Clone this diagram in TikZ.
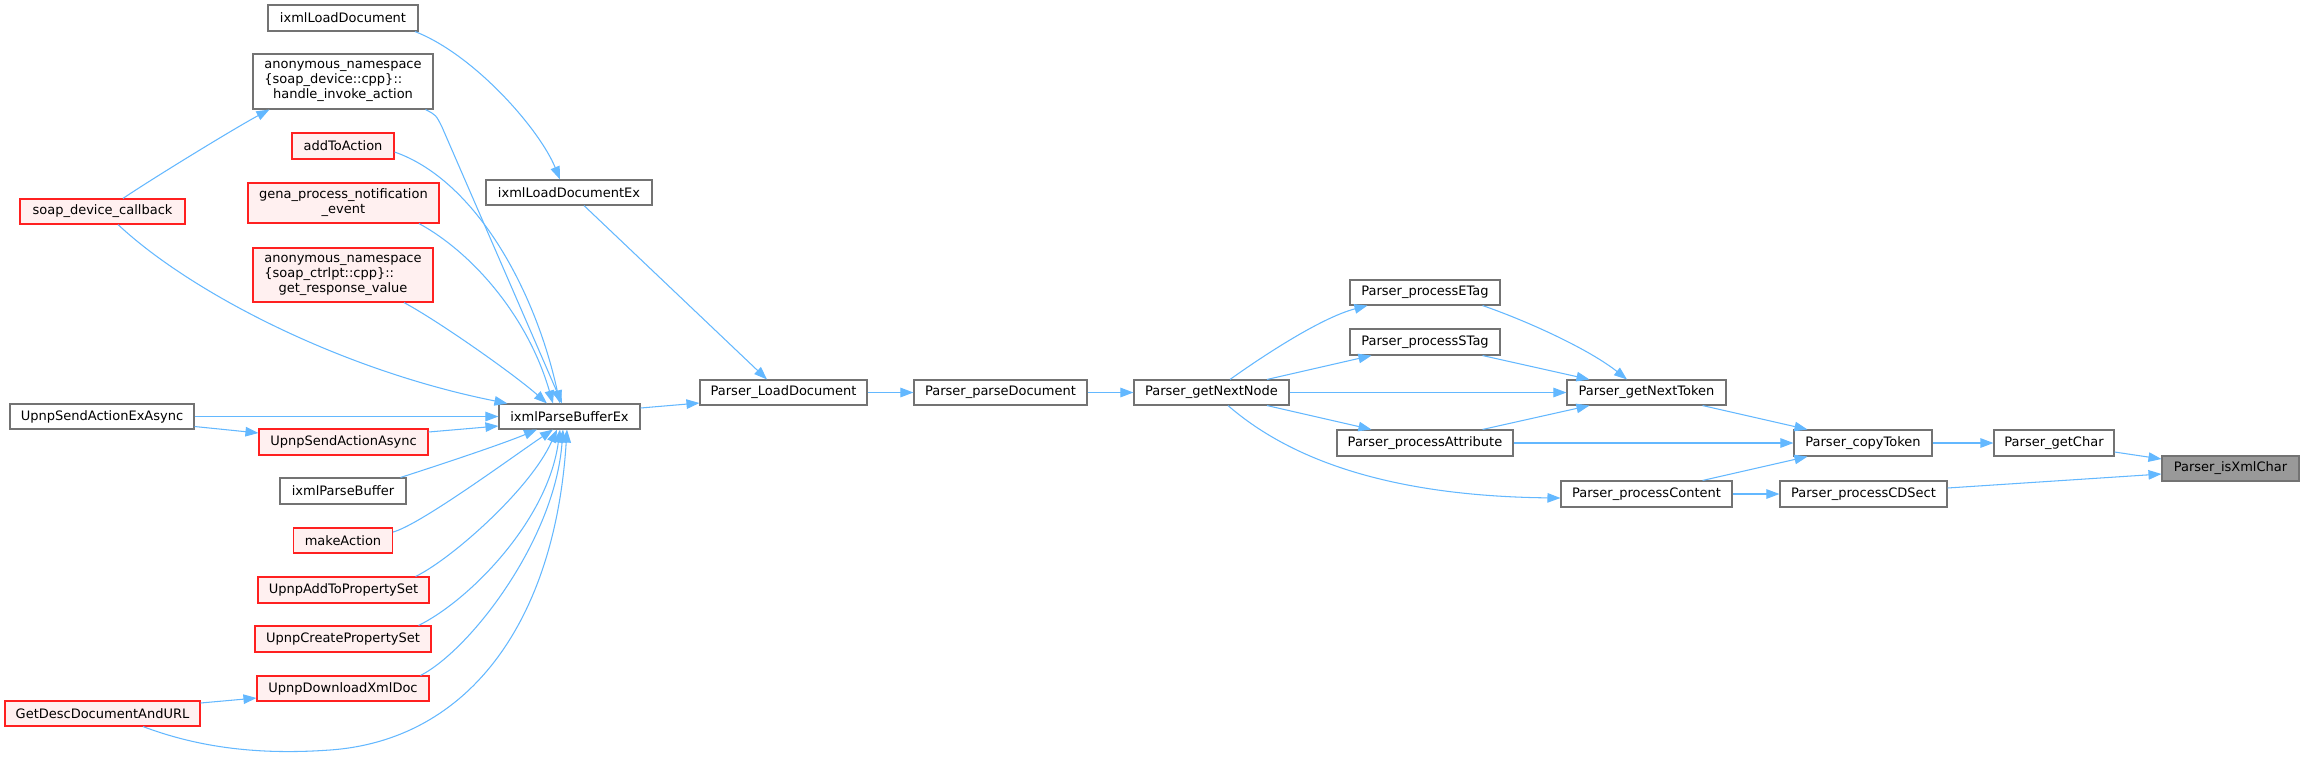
\documentclass[tikz,border=0pt]{standalone}
\usepackage{fontspec}
\setmainfont{DejaVu Sans}
\usepackage{calc}
\usetikzlibrary{arrows.meta,calc}
\definecolor{edgec}{HTML}{63B8FF}
\definecolor{nodeb}{HTML}{737373}
\definecolor{redb}{HTML}{FF2020}
\definecolor{redf}{HTML}{FFF0F0}
\definecolor{rootf}{HTML}{999999}
\newcommand{\lft}[2]{\makebox[\widthof{#1}][l]{#2}}
\begin{document}
\begin{tikzpicture}[x=1pt,y=-1pt,
  fn/.style={draw=nodeb, line width=1.1pt, fill=white, inner sep=0pt, text=black,
    font=\fontsize{13}{15}\selectfont, align=center},
  fr/.style={fn, draw=redb, fill=redf},
  froot/.style={fn, fill=rootf},
  ed/.style={draw=edgec, line width=1.05pt, -{Triangle[length=13pt,width=9.5pt]}}]
\useasboundingbox[fill=white] (0,0) rectangle (2304,756);

% left column
\node[fn, minimum width=150, minimum height=26] (ldoc) at (343,18) {ixmlLoadDocument};
\node[fn, minimum width=180, minimum height=55] (hia) at (343,81.5)
  {anonymous\_namespace\\\lft{anonymous\_namespace}{\{soap\_device::cpp\}::}\\handle\_invoke\_action};
\node[fr, minimum width=102, minimum height=26] (ata) at (343,146) {addToAction};
\node[fr, minimum width=191, minimum height=40] (gena) at (343.5,203) {gena\_process\_notification\\\_event};
\node[fr, minimum width=180, minimum height=54] (grv) at (343,275)
  {anonymous\_namespace\\\lft{anonymous\_namespace}{\{soap\_ctrlpt::cpp\}::}\\get\_response\_value};
\node[fr, minimum width=165, minimum height=25] (sdc) at (102.5,211.5) {soap\_device\_callback};
\node[fn, minimum width=166, minimum height=25] (ldex) at (569,192.5) {ixmlLoadDocumentEx};
\node[fn, minimum width=184, minimum height=25] (seea) at (102,416.5) {UpnpSendActionExAsync};
\node[fn, minimum width=141, minimum height=25] (pbe) at (569.5,416.5) {ixmlParseBufferEx};
\node[fr, minimum width=169, minimum height=26] (saa) at (343.5,442) {UpnpSendActionAsync};
\node[fn, minimum width=126, minimum height=26] (pb) at (343,491) {ixmlParseBuffer};
\node[fr, minimum width=99, minimum height=25] (ma) at (343,540.5) {makeAction};
\node[fr, minimum width=171, minimum height=26] (atps) at (343.5,590) {UpnpAddToPropertySet};
\node[fr, minimum width=176, minimum height=26] (cps) at (343,639) {UpnpCreatePropertySet};
\node[fr, minimum width=172, minimum height=25] (dxd) at (343,688.5) {UpnpDownloadXmlDoc};
\node[fr, minimum width=195, minimum height=25] (gdu) at (102.5,713.5) {GetDescDocumentAndURL};

% parser chain
\node[fn, minimum width=167, minimum height=25] (pld) at (783.5,392.5) {Parser\_LoadDocument};
\node[fn, minimum width=173, minimum height=25] (ppd) at (1000.5,392.5) {Parser\_parseDocument};
\node[fn, minimum width=155, minimum height=25] (gnn) at (1211.5,392.5) {Parser\_getNextNode};
\node[fn, minimum width=150, minimum height=25] (etag) at (1425,292.5) {Parser\_processETag};
\node[fn, minimum width=150, minimum height=26] (stag) at (1425,342) {Parser\_processSTag};
\node[fn, minimum width=176, minimum height=26] (attr) at (1425,443) {Parser\_processAttribute};
\node[fn, minimum width=159, minimum height=25] (gnt) at (1646.5,392.5) {Parser\_getNextToken};
\node[fn, minimum width=171, minimum height=26] (pc) at (1646.5,494) {Parser\_processContent};
\node[fn, minimum width=138, minimum height=26] (ct) at (1863,443) {Parser\_copyToken};
\node[fn, minimum width=167, minimum height=26] (cds) at (1863.5,494) {Parser\_processCDSect};
\node[fn, minimum width=120, minimum height=26] (gc) at (2054,443) {Parser\_getChar};
\node[froot, minimum width=137, minimum height=25] (ixc) at (2230.5,468.5) {Parser\_isXmlChar};

% edges
\draw[ed] ($(ldoc.south)+(72,0)$) .. controls (475,55) and (540,130) .. ($(ldex.north)+(-9,0)$);
\draw[ed] ($(hia.south east)+(-8,0)$) .. controls (436,115) .. (442,127) -- ($(pbe.north)+(-7.5,0)$);
\draw[ed] ($(ata.east)+(0,6)$) .. controls (475,180) and (535,289) .. ($(pbe.north)+(-9.5,0)$);
\draw[ed] ($(gena.south)+(75.5,0)$) .. controls (473,253) and (528,317) .. ($(pbe.north)+(-16.5,0)$);
\draw[ed] ($(grv.south)+(61,0)$) .. controls (440,322) and (515,375) .. ($(pbe.north)+(-22.5,0)$);
\draw[ed] ($(sdc.north)+(20.5,0)$) .. controls (150,180) and (235,128) .. ($(hia.south west)+(17,0)$);
\draw[ed] ($(sdc.south)+(15.5,0)$) .. controls (190,292) and (340,370) .. ($(pbe.north west)+(9,0)$);
\draw[ed] (seea.east) -- (pbe.west);
\draw[ed] ($(seea.east)+(0,10)$) -- ($(saa.west)+(0,-9)$);
\draw[ed] ($(saa.east)+(0,-10)$) -- ($(pbe.west)+(0,9.5)$);
\draw[ed] ($(pb.north east)+(-6,0)$) .. controls (430,468) and (500,445) .. ($(pbe.south)+(-32.5,0)$);
\draw[ed] ($(ma.east)+(0,-8.5)$) .. controls (420,525) and (515,455) .. ($(pbe.south)+(-16.5,0)$);
\draw[ed] ($(atps.north east)+(-14,0)$) .. controls (450,560) and (530,490) .. ($(pbe.south)+(-12.5,0)$);
\draw[ed] ($(cps.north east)+(-13,0)$) .. controls (470,600) and (548,520) .. ($(pbe.south)+(-9.5,0)$);
\draw[ed] ($(dxd.north east)+(-9,0)$) .. controls (470,650) and (555,540) .. ($(pbe.south)+(-6.5,0)$);
\draw[ed] ($(gdu.east)+(0,-10.5)$) -- ($(dxd.west)+(0,9.5)$);
\draw[ed] ($(gdu.south)+(40.5,0)$) .. controls (200,748) and (260,755) .. (330,750)
   .. controls (470,740) and (555,620) .. ($(pbe.south)+(-2.5,0)$);
\draw[ed] ($(pbe.east)+(0,-8.5)$) -- ($(pld.west)+(0,10.5)$);
\draw[ed] ($(ldex.south)+(15,0)$) -- ($(pld.north)+(-16.5,0)$);
\draw[ed] (pld.east) -- (ppd.west);
\draw[ed] (ppd.east) -- (gnn.west);
\draw[ed] ($(gnn.north)+(18.5,0)$) .. controls (1260,358) and (1320,318) .. ($(etag.south west)+(18,0)$);
\draw[ed] ($(gnn.north)+(55.5,0)$) -- ($(stag.south west)+(22,0)$);
\draw[ed] (gnn.east) -- (gnt.west);
\draw[ed] ($(gnn.south)+(55.5,0)$) -- ($(attr.north west)+(35,0)$);
\draw[ed] ($(gnn.south)+(16.5,0)$) .. controls (1285,455) and (1380,496) .. ($(pc.west)+(0,4)$);
\draw[ed] ($(etag.south east)+(-18,0)$) .. controls (1530,322) and (1590,350) .. ($(gnt.north)+(-19.5,0)$);
\draw[ed] ($(stag.south east)+(-18,0)$) -- ($(gnt.north west)+(23,0)$);
\draw[ed] ($(attr.north east)+(-31,0)$) -- ($(gnt.south west)+(23,0)$);
\draw[ed] ($(gnt.south east)+(-24,0)$) -- ($(ct.north west)+(14,0)$);
\draw[ed] (attr.east) -- (ct.west);
\draw[ed] ($(pc.north east)+(-30,0)$) -- ($(ct.south west)+(14,0)$);
\draw[ed] (pc.east) -- (cds.west);
\draw[ed] (ct.east) -- (gc.west);
\draw[ed] ($(gc.east)+(0,9)$) -- ($(ixc.west)+(0,-9.5)$);
\draw[ed] ($(cds.east)+(0,-6)$) -- ($(ixc.west)+(0,5.5)$);
\end{tikzpicture}
\end{document}
